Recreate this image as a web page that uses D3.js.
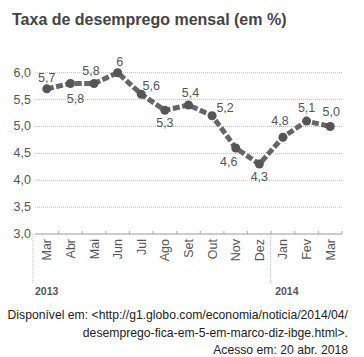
<!DOCTYPE html>
<html><head><meta charset="utf-8">
<script src="https://cdn.jsdelivr.net/npm/d3@7"></script>
<style>body{margin:0;background:#fff;}svg{display:block;}</style>
</head><body>
<svg id="c" width="364" height="357"></svg>
<script>
const months = ["Mar","Abr","Mai","Jun","Jul","Ago","Set","Out","Nov","Dez","Jan","Fev","Mar"];
const keys = months.map((m,i)=>i);
const values = [5.7,5.8,5.8,6.0,5.6,5.3,5.4,5.2,4.6,4.3,4.8,5.1,5.0];
const valueLabels = ["5,7","5,8","5,8","6","5,6","5,3","5,4","5,2","4,6","4,3","4,8","5,1","5,0"];
// label placement: [dx, dy]
const labelPos = [[0,-11],[5,16],[-3,-12],[2,-11],[10,-8],[0,13],[2,-12],[13,-8],[-7,14],[0,13],[-3,-16],[0,-13],[1,-14]];
const yTicks = [3.0,3.5,4.0,4.5,5.0,5.5,6.0];
const years = [{label:"2013", start:0},{label:"2014", start:10}];
const footer = ["Disponível em: <http://g1.globo.com/economia/noticia/2014/04/",
                "desemprego-fica-em-5-em-marco-diz-ibge.html>.",
                "Acesso em: 20 abr. 2018"];

const svg = d3.select("#c");
const font = "Liberation Sans, Arial, sans-serif";
const x = d3.scaleBand().domain(keys).range([35,342]);
const y = d3.scaleLinear().domain([3,6]).range([234,72.7]);

svg.append("text").attr("x",12).attr("y",25).attr("font-family",font)
  .attr("font-weight","bold").attr("font-size",16).attr("fill","#444")
  .text("Taxa de desemprego mensal (em %)");

// grid
svg.append("g").selectAll("line").data(yTicks.slice(1)).join("line")
  .attr("x1",35).attr("x2",342).attr("y1",d=>y(d)).attr("y2",d=>y(d))
  .attr("stroke","#bbb").attr("stroke-width",1).attr("stroke-dasharray","1,1");

// y tick labels
svg.append("g").selectAll("text").data(yTicks).join("text")
  .attr("x",31).attr("y",d=>y(d)+4).attr("text-anchor","end")
  .attr("font-family",font).attr("font-size",12.5).attr("fill","#555")
  .text(d=>d3.format(".1f")(d).replace(".",","));

// x axis
const xAxis = d3.axisBottom(x).tickSize(0).tickFormat("");
const ax = svg.append("g").attr("transform","translate(0,234)").call(xAxis);
ax.select(".domain").attr("stroke","#999").attr("d","M35,0H342");
svg.append("g").selectAll("line").data(keys.slice(1).concat([13])).join("line")
  .attr("x1",d=>x.range()[0]+d*x.step()).attr("x2",d=>x.range()[0]+d*x.step())
  .attr("y1",231).attr("y2",234).attr("stroke","#aaa");
svg.append("g").selectAll("text").data(keys).join("text")
  .attr("transform",d=>`translate(${x(d)+x.bandwidth()/2+4.5},239) rotate(-90)`)
  .attr("text-anchor","end").attr("font-family",font).attr("font-size",12.5).attr("fill","#555")
  .text(d=>months[d]);

// year separators
svg.append("g").selectAll("line").data(years).join("line")
  .attr("x1",d=>x(d.start)-(d.start?0.5:2)).attr("x2",d=>x(d.start)-(d.start?0.5:2))
  .attr("y1",234).attr("y2",283).attr("stroke","#bbb").attr("stroke-dasharray","1,1");
svg.append("g").selectAll("text").data(years).join("text")
  .attr("x",d=>x(d.start)+(d.start?4:0)).attr("y",295)
  .attr("font-family",font).attr("font-weight","bold").attr("font-size",10.5).attr("fill","#555")
  .text(d=>d.label);

// line
const line = d3.line().x((d,i)=>x(i)+x.bandwidth()/2).y(d=>y(d));
svg.append("path").datum(values).attr("d",line).attr("fill","none")
  .attr("stroke","#666").attr("stroke-width",5).attr("stroke-dasharray","7,2.5");
svg.append("g").selectAll("circle").data(values).join("circle")
  .attr("cx",(d,i)=>x(i)+x.bandwidth()/2).attr("cy",d=>y(d)).attr("r",4.5).attr("fill","#555");
svg.append("g").selectAll("text").data(values).join("text")
  .attr("x",(d,i)=>x(i)+x.bandwidth()/2+labelPos[i][0])
  .attr("y",(d,i)=>y(d)+labelPos[i][1]+4)
  .attr("text-anchor","middle").attr("font-family",font).attr("font-size",12.5).attr("fill","#555")
  .text((d,i)=>valueLabels[i]);

// footer
svg.append("g").selectAll("text").data(footer).join("text")
  .attr("x",348).attr("y",(d,i)=>319+i*17.5).attr("text-anchor","end")
  .attr("font-family",font).attr("font-size",12.2).attr("fill","#222")
  .text(d=>d);
</script>
</body></html>
